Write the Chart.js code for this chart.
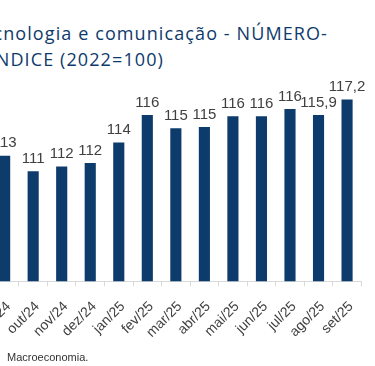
<!DOCTYPE html>
<html>
<head>
<meta charset="utf-8">
<script src="https://cdn.jsdelivr.net/npm/chart.js@4"></script>
<style>
  html, body { margin: 0; padding: 0; background: #fff; }
  body { width: 375px; height: 366px; overflow: hidden; position: relative; }
  .title { position: absolute; right: 47px; white-space: nowrap; color: #0e3a6b;
           font: 18px "Open Sans", sans-serif; letter-spacing: 1.1px; }
  #t1 { top: 21px; }
  #t2 { top: 47px; right: 211px; }
  #src { position: absolute; left: 7px; top: 351px; font: 11px "Liberation Sans", Arial, sans-serif; color: #333; }
  #wrap { position: absolute; left: -34px; top: 0; width: 404px; height: 353px; }
</style>
</head>
<body>
<div class="title" id="t1">Tecnologia e comunicação - NÚMERO-</div>
<div class="title" id="t2">ÍNDICE (2022=100)</div>
<div id="wrap"><canvas id="c"></canvas></div>
<div id="src">Macroeconomia.</div>
<script>
const months = ["set/24", "out/24", "nov/24", "dez/24", "jan/25", "fev/25", "mar/25",
  "abr/25", "mai/25", "jun/25", "jul/25", "ago/25", "set/25"];
const indexValues = [112.5, 111.2, 111.6, 111.9, 113.6, 115.9, 114.8, 114.9, 115.8, 115.8, 116.4, 115.9, 117.2];
const valueLabels = ["113", "111", "112", "112", "114", "116", "115", "115", "116", "116", "116", "115,9", "117,2"];

const BAR = "#0c3b6c";
const TEXT = "#404040";
const AXIS = "#d9d9d9";

// value labels drawn above each bar
const barLabels = {
  id: "barLabels",
  afterDatasetsDraw(chart) {
    const ctx = chart.ctx;
    ctx.save();
    ctx.font = '15px "Liberation Sans", Arial, sans-serif';
    ctx.fillStyle = TEXT;
    ctx.textAlign = "center";
    ctx.textBaseline = "bottom";
    chart.getDatasetMeta(0).data.forEach((bar, i) => {
      ctx.fillText(valueLabels[i], bar.x, bar.y - 5);
    });
    ctx.restore();
  },
};

new Chart(document.getElementById("c"), {
  type: "bar",
  data: {
    labels: months,
    datasets: [{
      data: indexValues,
      backgroundColor: BAR,
      barPercentage: 0.39,
      categoryPercentage: 1,
    }],
  },
  options: {
    responsive: true,
    maintainAspectRatio: false,
    animation: false,
    layout: { padding: { top: 66 } },
    scales: {
      x: {
        grid: { display: true, drawOnChartArea: false, drawTicks: true, tickLength: 5, color: AXIS, offset: true },
        border: { color: AXIS, width: 1 },
        ticks: {
          color: TEXT,
          font: { family: '"Liberation Sans", Arial, sans-serif', size: 14 },
          minRotation: 45,
          maxRotation: 45,
          padding: 12,
          labelOffset: 4,
          autoSkip: false,
        },
      },
      y: { display: false, min: 102, max: 120 },
    },
    plugins: { legend: { display: false }, tooltip: { enabled: false } },
  },
  plugins: [barLabels],
});
</script>
</body>
</html>
